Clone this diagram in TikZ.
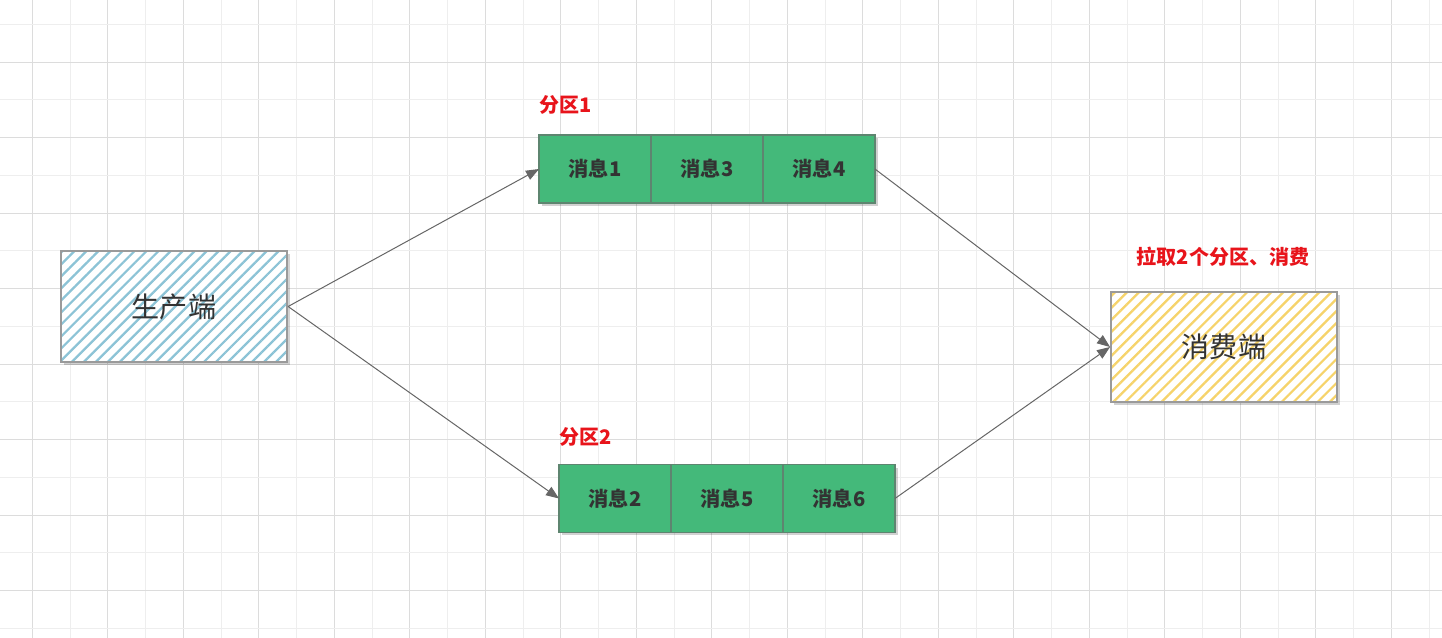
\documentclass[tikz,border=0pt]{standalone}
\usepackage{fontspec}
\setmainfont{Noto Sans CJK SC}
\usetikzlibrary{positioning}
\usetikzlibrary{arrows.meta}
\usetikzlibrary{patterns.meta}
\usetikzlibrary{shadows}
\definecolor{gridmajor}{HTML}{DCDCDC}
\definecolor{gridminor}{HTML}{EEEEEE}
\definecolor{msggreen}{HTML}{44B97A}
\definecolor{msgborder}{HTML}{5E8570}
\definecolor{hatchblue}{HTML}{8CC3D6}
\definecolor{hatchyellow}{HTML}{F6D36A}
\definecolor{boxgray}{HTML}{9A9A9A}
\definecolor{linegray}{HTML}{666666}
\definecolor{labelred}{HTML}{E8141B}
\definecolor{textdark}{HTML}{333333}

\begin{document}
\begin{tikzpicture}[x=0.02cm, y=-0.02cm,  shadowed/.style={    drop shadow={shadow xshift=0.06cm, shadow yshift=-0.06cm, opacity=0.18, fill=black}  },  endbox/.style={    shadowed,    preaction={fill=white},    draw=boxgray,    line width=0.04cm,    minimum width=4.52cm,    minimum height=2.22cm,    font=\fontsize{16}{19}\selectfont,    text=textdark  },  msg/.style={    draw=msgborder,    fill=msggreen,    line width=0.025cm,    minimum width=2.24cm,    minimum height=1.36cm,    outer sep=0pt,    font=\fontsize{11.5}{13}\selectfont\bfseries,    text=textdark,    inner sep=0pt  },  tag/.style={    text=labelred,    font=\fontsize{11.4}{13}\selectfont\bfseries,    inner sep=0pt  },  arrow/.style={    -{Triangle[length=0.26cm, width=0.2cm]},    draw=linegray,    line width=0.02cm  }]
		\useasboundingbox (0,0) rectangle (1442,638);
		\fill[white] (0,0) rectangle (1442,638);
		% Grid
		\foreach \i in {0,...,37} {
			\pgfmathtruncatemacro{\odd}{mod(\i,2)}
			\ifnum\odd=0 \def\gc{gridmajor}\else \def\gc{gridminor}\fi
			\draw[\gc, line width=0.02cm] (32.3+37.75*\i,0) -- (32.3+37.75*\i,638);
		}
		\foreach \j in {0,...,16} {
			\pgfmathtruncatemacro{\odd}{mod(\j,2)}
			\ifnum\odd=1 \def\gc{gridmajor}\else \def\gc{gridminor}\fi
			\draw[\gc, line width=0.02cm] (0,24.3+37.75*\j) -- (1442,24.3+37.75*\j);
		}
		% Producer and consumer
		\node[endbox, pattern={Lines[angle=45, distance=0.17cm, line width=0.045cm]}, pattern color=hatchblue] (producer) at (174,306.5) {生产端};
		\node[endbox, pattern={Lines[angle=45, distance=0.17cm, line width=0.045cm]}, pattern color=hatchyellow] (consumer) at (1224,347) {消费端};
		% Partition 1
		\node[msg, shadowed] (m1) at (595,169) {消息1};
		\node[msg, shadowed, right=0pt of m1] (m3) {消息3};
		\node[msg, shadowed, right=0pt of m3] (m4) {消息4};
		% Partition 2
		\node[msg, shadowed] (m2) at (615,498.5) {消息2};
		\node[msg, shadowed, right=0pt of m2] (m5) {消息5};
		\node[msg, shadowed, right=0pt of m5] (m6) {消息6};
		% Labels
		\node[tag, anchor=west] (p1) at (539,105) {分区1};
		\node[tag, anchor=west] (p2) at (559,437) {分区2};
		\node[tag] (pull) at (1223,257) {拉取2个分区、消费};
		% Arrows
		\draw[arrow] (producer.east) -- (m1.west);
		\draw[arrow] (producer.east) -- (m2.west);
		\draw[arrow] (m4.east) -- (consumer.west);
		\draw[arrow] (m6.east) -- (consumer.west);
	\end{tikzpicture}
\end{document}
